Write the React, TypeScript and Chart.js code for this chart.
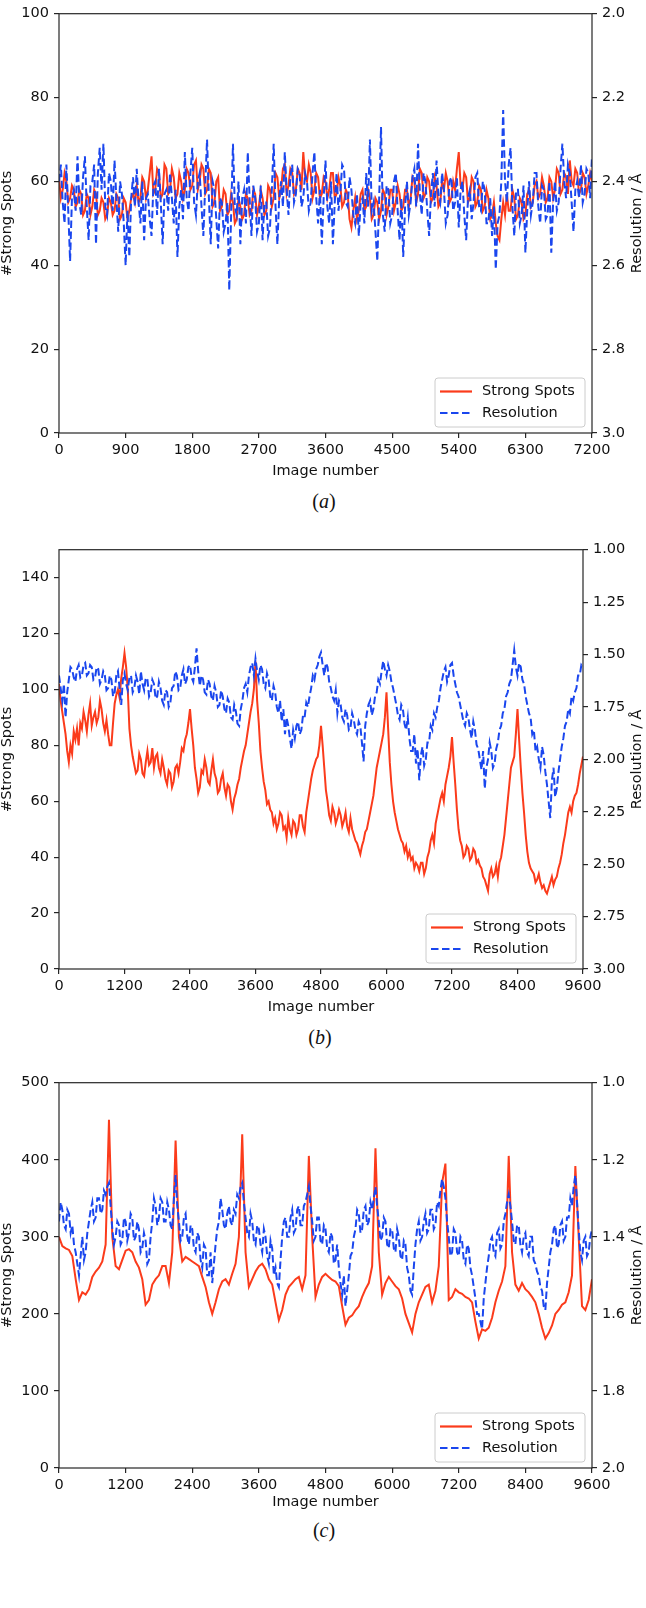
import React, { useEffect, useRef } from "react";
import { Chart, registerables } from "chart.js";
Chart.register(...registerables);

const FONT = "'DejaVu Sans', sans-serif";
const RED = "#fb3b1b";
const BLUE = "#1a46ee";
const AXIS = "#262626";
const TEXT = "#111111";

// ---------- Panel (a): image step 25, 0..7200 ----------
const stepA = 25;
const spotsA = [
  61,56,58,62,60,55,56,59,58,54,55,58,57,52,53,57,56,52,54,58,
  57,52,53,56,55,51,52,56,55,52,53,57,56,51,52,56,55,51,53,56,
  57,55,59,55,56,61,60,56,58,62,66,57,58,63,62,56,57,64,63,57,
  58,63,61,56,57,62,60,56,58,63,62,58,59,64,65,58,60,64,63,57,
  58,63,62,54,55,60,61,53,54,58,57,52,53,57,55,50,51,56,54,51,
  52,57,56,52,53,58,57,52,54,58,56,52,53,59,58,54,56,62,61,56,
  58,63,64,57,59,63,62,57,58,63,62,58,67,61,60,64,62,56,58,62,
  61,56,57,61,60,56,58,62,62,56,57,61,59,54,55,58,57,51,49,53,
  56,51,53,57,58,53,54,58,56,51,52,56,55,51,53,58,57,52,54,58,
  58,53,55,59,57,53,54,58,58,54,56,61,60,55,57,63,62,56,57,61,
  60,55,56,61,59,54,55,60,58,62,60,55,56,60,58,63,67,59,58,62,
  61,55,56,61,60,54,55,59,58,53,54,58,56,51,52,55,50,47,46,51,
  55,52,57,53,53,58,56,51,52,56,55,51,52,57,58,54,55,59,60,56,
  57,61,59,55,56,61,60,56,58,63,62,57,58,62,61,57,65,60,59,63,
  62,57,58,62,61,57,59,62,60,
];
const resA = [
  2.40,2.36,2.45,2.50,2.36,2.47,2.59,2.44,2.42,2.47,2.34,2.45,2.48,2.39,2.34,2.46,2.54,2.41,2.40,2.36,
  2.55,2.38,2.32,2.42,2.31,2.46,2.48,2.38,2.40,2.47,2.35,2.44,2.52,2.40,2.43,2.50,2.60,2.47,2.58,2.44,
  2.39,2.46,2.37,2.45,2.50,2.40,2.54,2.44,2.43,2.49,2.53,2.41,2.40,2.48,2.37,2.45,2.55,2.43,2.42,2.47,
  2.38,2.44,2.50,2.42,2.58,2.46,2.42,2.49,2.33,2.44,2.47,2.38,2.32,2.45,2.48,2.40,2.38,2.46,2.53,2.41,
  2.30,2.44,2.55,2.40,2.42,2.49,2.56,2.44,2.45,2.52,2.50,2.45,2.66,2.48,2.31,2.46,2.48,2.40,2.55,2.44,
  2.42,2.50,2.33,2.44,2.53,2.41,2.44,2.52,2.50,2.41,2.54,2.45,2.45,2.53,2.51,2.42,2.31,2.46,2.55,2.44,
  2.40,2.46,2.33,2.42,2.48,2.39,2.36,2.45,2.43,2.37,2.38,2.46,2.44,2.38,2.40,2.47,2.45,2.38,2.33,2.44,
  2.50,2.42,2.55,2.44,2.35,2.46,2.50,2.40,2.55,2.45,2.38,2.47,2.43,2.36,2.37,2.45,2.46,2.39,2.42,2.48,
  2.50,2.43,2.53,2.45,2.44,2.50,2.38,2.46,2.30,2.47,2.45,2.52,2.59,2.44,2.27,2.48,2.52,2.41,2.42,2.50,
  2.48,2.40,2.38,2.47,2.54,2.44,2.58,2.46,2.40,2.48,2.45,2.39,2.37,2.46,2.31,2.43,2.48,2.38,2.40,2.47,
  2.53,2.43,2.38,2.46,2.35,2.43,2.45,2.38,2.42,2.50,2.48,2.40,2.39,2.47,2.45,2.39,2.51,2.42,2.40,2.48,
  2.54,2.44,2.42,2.49,2.45,2.39,2.38,2.46,2.47,2.40,2.42,2.50,2.50,2.44,2.53,2.46,2.61,2.50,2.48,2.40,
  2.23,2.40,2.45,2.36,2.32,2.46,2.53,2.42,2.42,2.50,2.48,2.41,2.57,2.47,2.40,2.48,2.45,2.38,2.38,2.46,
  2.50,2.41,2.42,2.49,2.48,2.40,2.57,2.45,2.40,2.47,2.45,2.37,2.31,2.40,2.44,2.36,2.38,2.45,2.52,2.42,
  2.40,2.44,2.36,2.45,2.43,2.37,2.38,2.44,2.34,
];

// ---------- Panel (b): image step 30, 0..9600 ----------
const stepB = 30;
const spotsB = [
  102,96,92,88,84,78,74,80,77,85,82,86,80,88,86,92,89,85,91,95,
  87,90,92,88,90,96,93,88,85,89,84,80,80,88,95,98,100,97,104,108,
  113,108,100,86,80,76,73,70,71,77,75,70,69,74,78,73,74,79,72,76,
  77,72,70,75,72,68,66,71,70,65,67,72,73,70,74,79,78,82,84,88,
  93,86,80,72,68,63,65,71,70,75,72,67,66,71,75,70,68,63,64,68,
  70,65,62,66,65,60,57,61,63,66,68,72,75,78,80,84,88,92,95,100,
  110,96,88,78,72,67,64,59,60,57,56,52,54,50,52,56,55,50,51,47,
  54,50,48,53,52,48,50,55,55,51,49,56,60,64,68,71,73,75,76,80,
  87,80,72,64,60,55,53,58,56,52,54,57,55,51,53,56,51,49,54,50,
  48,46,45,43,41,44,46,49,50,53,56,59,62,67,72,75,78,81,84,90,
  99,86,74,66,60,56,53,50,48,46,45,42,44,40,42,39,40,36,38,37,
  35,38,38,34,36,40,42,46,48,45,52,55,58,61,63,60,66,69,72,76,
  83,74,66,57,50,46,44,40,41,44,43,39,40,43,42,38,39,37,36,33,
  32,30,28,34,36,33,34,37,33,38,40,44,48,54,60,66,72,74,76,84,
  93,82,72,63,56,48,42,38,36,35,34,31,32,34,31,29,30,28,27,29,
  31,33,30,32,33,36,38,41,45,48,52,56,58,56,60,62,63,66,70,73,
  76,
];
const resB = [
  1.60,1.66,1.72,1.64,1.80,1.68,1.62,1.56,1.57,1.61,1.63,1.57,1.55,1.61,1.60,1.55,1.54,1.60,1.59,1.55,
  1.56,1.62,1.61,1.56,1.57,1.64,1.62,1.58,1.60,1.67,1.66,1.60,1.62,1.70,1.68,1.60,1.58,1.66,1.74,1.62,
  1.59,1.64,1.67,1.61,1.60,1.68,1.66,1.60,1.63,1.69,1.58,1.64,1.67,1.61,1.62,1.70,1.68,1.62,1.64,1.71,
  1.70,1.63,1.66,1.72,1.74,1.67,1.68,1.75,1.73,1.66,1.65,1.58,1.60,1.67,1.66,1.60,1.57,1.64,1.62,1.56,
  1.55,1.61,1.63,1.56,1.47,1.58,1.65,1.60,1.62,1.68,1.69,1.62,1.64,1.70,1.72,1.65,1.68,1.75,1.74,1.67,
  1.70,1.76,1.78,1.71,1.73,1.80,1.81,1.74,1.77,1.83,1.84,1.76,1.72,1.66,1.64,1.68,1.60,1.56,1.54,1.60,
  1.52,1.58,1.62,1.55,1.57,1.64,1.66,1.59,1.62,1.70,1.72,1.65,1.68,1.75,1.78,1.72,1.82,1.76,1.88,1.80,
  1.84,1.90,1.95,1.86,1.90,1.84,1.82,1.88,1.86,1.79,1.80,1.73,1.75,1.70,1.66,1.60,1.62,1.57,1.55,1.51,
  1.49,1.55,1.60,1.54,1.56,1.63,1.66,1.70,1.72,1.67,1.78,1.72,1.74,1.80,1.82,1.76,1.79,1.86,1.85,1.78,
  1.81,1.86,1.88,1.82,1.84,1.92,2.01,1.84,1.78,1.74,1.72,1.79,1.76,1.70,1.68,1.62,1.64,1.58,1.53,1.57,
  1.60,1.55,1.58,1.63,1.66,1.70,1.74,1.79,1.81,1.74,1.76,1.83,1.86,1.80,1.90,1.96,1.96,1.88,2.02,1.95,
  2.10,1.98,1.94,2.03,2.00,1.92,1.92,1.84,1.86,1.78,1.80,1.75,1.72,1.66,1.62,1.58,1.56,1.63,1.60,1.55,
  1.54,1.60,1.64,1.68,1.70,1.74,1.78,1.82,1.84,1.78,1.80,1.86,1.90,1.82,1.86,1.93,1.95,2.00,2.05,1.96,
  2.14,2.04,2.00,1.92,1.96,2.04,2.02,1.95,1.92,1.86,1.84,1.78,1.76,1.70,1.68,1.64,1.62,1.55,1.48,1.56,
  1.60,1.54,1.56,1.62,1.64,1.70,1.74,1.78,1.80,1.88,1.86,1.96,1.94,2.00,2.04,1.94,1.98,2.06,2.12,2.20,
  2.28,2.10,2.04,2.18,2.14,2.06,2.00,1.94,1.90,1.84,1.82,1.76,1.78,1.70,1.72,1.68,1.66,1.60,1.60,1.55,
  1.56,
];

// ---------- Panel (c): spots step 60, resolution step 30, 0..9600 ----------
const stepSpotsC = 60;
const spotsC = [
  300, 288, 285, 283, 275, 245, 218, 228, 225, 232,
  248, 255, 260, 268, 290, 452, 300, 262, 258, 270,
  282, 284, 280, 268, 260, 245, 212, 218, 238, 245,
  250, 262, 262, 240, 280, 425, 300, 268, 274, 271,
  268, 265, 262, 248, 235, 215, 200, 215, 232, 242,
  245, 238, 252, 265, 300, 433, 280, 235, 245, 255,
  262, 265, 258, 245, 238, 215, 192, 205, 225, 235,
  240, 245, 248, 232, 250, 405, 300, 222, 238, 248,
  252, 248, 244, 242, 236, 210, 186, 195, 198, 205,
  210, 222, 232, 240, 262, 415, 280, 225, 240, 248,
  242, 236, 232, 220, 200, 188, 176, 200, 215, 225,
  235, 238, 215, 230, 262, 370, 395, 218, 222, 232,
  228, 226, 222, 220, 215, 190, 168, 180, 178, 182,
  195, 215, 230, 242, 262, 405, 280, 238, 230, 240,
  232, 228, 222, 215, 200, 182, 168, 175, 185, 200,
  205, 212, 215, 228, 250, 392, 300, 210, 205, 218,
  245,
];
const stepResC = 30;
const resC = [
  1.36,1.31,1.33,1.37,1.38,1.33,1.34,1.39,1.37,1.42,1.44,1.47,1.50,1.45,1.40,1.46,1.44,1.39,1.36,1.33,
  1.31,1.36,1.35,1.30,1.30,1.34,1.33,1.28,1.29,1.27,1.26,1.32,1.38,1.42,1.40,1.36,1.37,1.42,1.41,1.35,
  1.36,1.41,1.39,1.34,1.35,1.41,1.40,1.36,1.38,1.44,1.43,1.39,1.41,1.47,1.46,1.40,1.36,1.30,1.32,1.37,
  1.35,1.30,1.31,1.36,1.36,1.31,1.33,1.37,1.38,1.30,1.24,1.32,1.36,1.41,1.40,1.35,1.34,1.40,1.42,1.37,
  1.38,1.43,1.44,1.39,1.40,1.46,1.48,1.42,1.43,1.50,1.50,1.44,1.52,1.47,1.42,1.38,1.36,1.30,1.33,1.37,
  1.38,1.34,1.32,1.36,1.37,1.33,1.34,1.29,1.30,1.27,1.26,1.31,1.35,1.39,1.40,1.34,1.36,1.41,1.42,1.37,
  1.38,1.42,1.44,1.38,1.40,1.45,1.47,1.41,1.43,1.50,1.48,1.52,1.53,1.46,1.40,1.36,1.35,1.40,1.40,1.35,
  1.33,1.39,1.38,1.33,1.32,1.37,1.37,1.32,1.31,1.29,1.27,1.32,1.36,1.41,1.40,1.35,1.35,1.41,1.42,1.37,
  1.38,1.43,1.44,1.39,1.40,1.47,1.46,1.42,1.48,1.52,1.55,1.50,1.58,1.54,1.50,1.45,1.44,1.40,1.38,1.33,
  1.34,1.39,1.38,1.33,1.32,1.37,1.36,1.31,1.33,1.30,1.27,1.32,1.36,1.41,1.40,1.35,1.36,1.42,1.43,1.38,
  1.38,1.43,1.44,1.38,1.40,1.45,1.46,1.41,1.42,1.48,1.50,1.54,1.55,1.48,1.42,1.38,1.36,1.41,1.40,1.36,
  1.34,1.39,1.38,1.33,1.33,1.38,1.37,1.31,1.32,1.28,1.25,1.27,1.30,1.36,1.40,1.45,1.44,1.38,1.39,1.44,
  1.45,1.40,1.41,1.46,1.47,1.42,1.43,1.48,1.50,1.53,1.56,1.60,1.60,1.62,1.64,1.56,1.52,1.48,1.45,1.41,
  1.40,1.44,1.45,1.39,1.38,1.43,1.42,1.36,1.34,1.31,1.29,1.32,1.36,1.41,1.42,1.37,1.37,1.42,1.44,1.40,
  1.39,1.44,1.45,1.40,1.40,1.46,1.47,1.49,1.50,1.53,1.54,1.58,1.59,1.52,1.48,1.44,1.42,1.38,1.37,1.43,
  1.42,1.37,1.36,1.41,1.40,1.35,1.35,1.30,1.32,1.27,1.24,1.31,1.38,1.44,1.46,1.41,1.40,1.45,1.44,1.40,
  1.38,
];

const legendLabels = ["Strong Spots", "Resolution"];
const xTitle = "Image number";
const yTitle = "#Strong Spots";
const y2Title = "Resolution / Å";

type Panel = {
  top: number; height: number; xH: number; rightW: number;
  spots: number[]; spotsStep: number; res: number[]; resStep: number;
  xMax: number; xStep: number;
  yMax: number; yStep: number;
  rMin: number; rMax: number; rStep: number; rDec: number;
  caption: string; capY: number; capX: number;
};

const panels: Panel[] = [
  { top: 0, height: 480, xH: 47, rightW: 54, spots: spotsA, spotsStep: stepA, res: resA, resStep: stepA,
    xMax: 7200, xStep: 900, yMax: 100, yStep: 20, rMin: 2, rMax: 3, rStep: 0.2, rDec: 1,
    caption: "a", capY: 501, capX: 324 },
  { top: 536, height: 480, xH: 47, rightW: 63, spots: spotsB, spotsStep: stepB, res: resB, resStep: stepB,
    xMax: 9600, xStep: 1200, yMax: 150, yStep: 20, rMin: 1, rMax: 3, rStep: 0.25, rDec: 2,
    caption: "b", capY: 1037, capX: 320 },
  { top: 1069, height: 442, xH: 43, rightW: 54, spots: spotsC, spotsStep: stepSpotsC, res: resC, resStep: stepResC,
    xMax: 9600, xStep: 1200, yMax: 500, yStep: 100, rMin: 1, rMax: 2, rStep: 0.2, rDec: 1,
    caption: "c", capY: 1530, capX: 324 },
];

const decorPlugin = {
  id: "decor",
  afterDraw(chart: any) {
    const { ctx, chartArea } = chart;
    const { left, right, top, bottom } = chartArea;
    ctx.save();
    ctx.strokeStyle = AXIS;
    ctx.lineWidth = 1.2;
    ctx.setLineDash([]);
    ctx.strokeRect(left, top, right - left, bottom - top);
    ctx.fillStyle = TEXT;
    ctx.font = `14.5px ${FONT}`;
    ctx.textAlign = "center";
    ctx.textBaseline = "middle";
    ctx.translate(637, (top + bottom) / 2);
    ctx.rotate(-Math.PI / 2);
    ctx.fillText(y2Title, 0, 0);
    ctx.restore();

    ctx.save();
    const w = 150, h = 49;
    const x0 = right - 7 - w, y0 = bottom - 6 - h;
    const r = 3;
    ctx.beginPath();
    ctx.moveTo(x0 + r, y0);
    ctx.lineTo(x0 + w - r, y0);
    ctx.quadraticCurveTo(x0 + w, y0, x0 + w, y0 + r);
    ctx.lineTo(x0 + w, y0 + h - r);
    ctx.quadraticCurveTo(x0 + w, y0 + h, x0 + w - r, y0 + h);
    ctx.lineTo(x0 + r, y0 + h);
    ctx.quadraticCurveTo(x0, y0 + h, x0, y0 + h - r);
    ctx.lineTo(x0, y0 + r);
    ctx.quadraticCurveTo(x0, y0, x0 + r, y0);
    ctx.closePath();
    ctx.fillStyle = "rgba(255,255,255,0.8)";
    ctx.fill();
    ctx.strokeStyle = "#cccccc";
    ctx.lineWidth = 1;
    ctx.stroke();

    const rows = [y0 + 13.5, y0 + 35];
    ctx.lineWidth = 2.2;
    ctx.strokeStyle = RED;
    ctx.setLineDash([]);
    ctx.beginPath();
    ctx.moveTo(x0 + 5, rows[0]);
    ctx.lineTo(x0 + 37, rows[0]);
    ctx.stroke();
    ctx.strokeStyle = BLUE;
    ctx.setLineDash([7.5, 3.5]);
    ctx.beginPath();
    ctx.moveTo(x0 + 5, rows[1]);
    ctx.lineTo(x0 + 37, rows[1]);
    ctx.stroke();
    ctx.setLineDash([]);
    ctx.fillStyle = TEXT;
    ctx.font = `14.5px ${FONT}`;
    ctx.textAlign = "left";
    ctx.textBaseline = "middle";
    ctx.fillText(legendLabels[0], x0 + 47, rows[0]);
    ctx.fillText(legendLabels[1], x0 + 47, rows[1]);
    ctx.restore();
  },
};

function PanelChart({ p }: { p: Panel }) {
  const ref = useRef<HTMLCanvasElement | null>(null);
  useEffect(() => {
    if (!ref.current) return;
    const tickFont = { family: FONT, size: 14.5 };
    const grid = {
      display: true, drawOnChartArea: false, drawTicks: true,
      tickLength: 5, color: AXIS, lineWidth: 1.2,
    };
    const chart = new Chart(ref.current, {
      type: "line",
      data: {
        datasets: [
          {
            label: legendLabels[1],
            data: p.res.map((y, i) => ({ x: i * p.resStep, y })),
            yAxisID: "y1",
            borderColor: BLUE,
            borderWidth: 2,
            borderDash: [7.5, 3.5],
            pointRadius: 0,
            fill: false,
            tension: 0,
            order: 0,
          },
          {
            label: legendLabels[0],
            data: p.spots.map((y, i) => ({ x: i * p.spotsStep, y })),
            yAxisID: "y",
            borderColor: RED,
            borderWidth: 2,
            pointRadius: 0,
            fill: false,
            tension: 0,
            order: 1,
          },
        ],
      },
      options: {
        responsive: false,
        animation: false,
        layout: { padding: { top: 5, left: 0, right: 0, bottom: 0 } },
        plugins: { legend: { display: false }, tooltip: { enabled: false } },
        scales: {
          x: {
            type: "linear",
            position: "bottom",
            min: 0,
            max: p.xMax,
            ticks: {
              stepSize: p.xStep, autoSkip: false, maxRotation: 0, includeBounds: false,
              padding: 4, color: TEXT, font: tickFont,
              callback: (v: any) => String(v),
            },
            grid,
            border: { display: false },
            title: {
              display: true, text: xTitle, color: TEXT, padding: 0,
              font: { family: FONT, size: 14.5, lineHeight: 1.2 },
            },
            afterFit: (s: any) => { s.height = p.xH; },
          },
          y: {
            type: "linear",
            position: "left",
            min: 0,
            max: p.yMax,
            ticks: {
              stepSize: p.yStep, includeBounds: false, padding: 5, color: TEXT, font: tickFont,
              callback: (v: any) => String(v),
            },
            grid,
            border: { display: false },
            title: {
              display: true, text: yTitle, color: TEXT, padding: 0,
              font: { family: FONT, size: 14.5, lineHeight: 1.0 },
            },
            afterFit: (s: any) => { s.width = 59; },
          },
          y1: {
            type: "linear",
            position: "right",
            reverse: true,
            min: p.rMin,
            max: p.rMax,
            ticks: {
              stepSize: p.rStep, padding: 5, color: TEXT, font: tickFont,
              callback: (v: any) => Number(v).toFixed(p.rDec),
            },
            grid,
            border: { display: false },
            afterFit: (s: any) => { s.width = p.rightW; },
          },
        },
      } as any,
      plugins: [decorPlugin],
    });
    return () => chart.destroy();
  }, [p]);
  return (
    <canvas
      ref={ref}
      width={646}
      height={p.height}
      style={{ position: "absolute", left: 0, top: p.top, width: 646, height: p.height }}
    />
  );
}

export default function App() {
  return (
    <div style={{ position: "absolute", left: 0, top: 0, width: 646, height: 1608, background: "#fff", overflow: "hidden" }}>
      {panels.map((p, i) => (
        <PanelChart key={i} p={p} />
      ))}
      {panels.map((p, i) => (
        <div
          key={"cap" + i}
          style={{
            position: "absolute", left: p.capX - 50, width: 100, top: p.capY - 12, height: 24,
            lineHeight: "24px", textAlign: "center", fontFamily: "'Liberation Serif', serif",
            fontSize: 20, color: TEXT,
          }}
        >
          (<i>{p.caption}</i>)
        </div>
      ))}
    </div>
  );
}
